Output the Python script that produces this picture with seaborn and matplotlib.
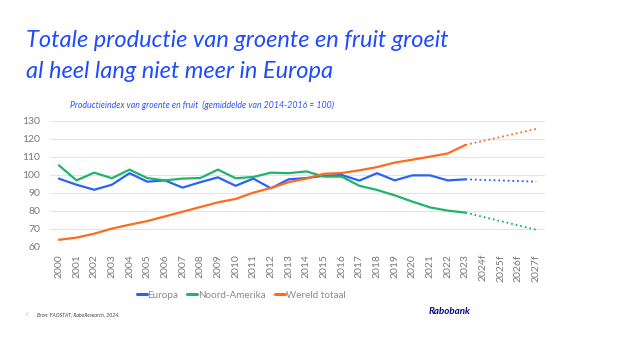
import matplotlib
matplotlib.use("Agg")
import matplotlib.pyplot as plt
import seaborn as sns
import pandas as pd
from matplotlib.lines import Line2D

# ---- data ----
labels = ["2000", "2001", "2002", "2003", "2004", "2005", "2006", "2007", "2008", "2009",
          "2010", "2011", "2012", "2013", "2014", "2015", "2016", "2017", "2018", "2019",
          "2020", "2021", "2022", "2023", "2024f", "2025f", "2026f", "2027f"]
hist_labels = labels[:24]
europa = [98.0, 94.6, 91.8, 94.6, 101.0, 96.3, 97.0, 93.0, 96.0, 98.7,
          94.0, 98.0, 92.6, 97.6, 98.3, 99.6, 100.0, 96.9, 101.0, 97.0,
          99.8, 99.8, 97.0, 97.6]
noord_amerika = [105.4, 97.0, 101.3, 98.2, 103.0, 98.3, 97.0, 98.0, 98.3, 103.0,
                 98.2, 98.9, 101.3, 101.0, 102.0, 99.1, 99.1, 94.0, 91.7, 88.7,
                 85.2, 82.0, 80.2, 79.1]
wereld = [64.0, 65.2, 67.4, 70.2, 72.4, 74.4, 77.0, 79.6, 82.2, 84.8,
          86.7, 90.2, 92.8, 96.0, 98.0, 100.7, 101.1, 102.6, 104.4, 106.9,
          108.5, 110.2, 112.0, 116.7]
fc_labels = ["2023", "2027f"]
fc_europa = [97.6, 96.3]
fc_noord_amerika = [79.1, 69.6]
fc_wereld = [116.7, 125.6]

series = ["Europa", "Noord-Amerika", "Wereld totaal"]
colors = {"Europa": "#2962f6", "Noord-Amerika": "#1fb36b", "Wereld totaal": "#ff6b1c"}
yticks = [60, 70, 80, 90, 100, 110, 120, 130]

title = "Totale productie van groente en fruit groeit\nal heel lang niet meer in Europa"
subtitle = "Productieindex van groente en fruit  (gemiddelde van 2014-2016 = 100)"
source = "Bron: FAOSTAT, RaboResearch, 2024."

hist = pd.DataFrame({
    "x": [labels.index(l) for l in hist_labels] * 3,
    "value": europa + noord_amerika + wereld,
    "serie": sum([[s] * len(hist_labels) for s in series], []),
})
fc = pd.DataFrame({
    "x": [labels.index(l) for l in fc_labels] * 3,
    "value": fc_europa + fc_noord_amerika + fc_wereld,
    "serie": sum([[s] * len(fc_labels) for s in series], []),
})

sns.set_style("white")
plt.rcParams["font.family"] = ["Lato", "DejaVu Sans"]

fig = plt.figure(figsize=(6.25, 3.48), dpi=100)
ax = fig.add_axes([50 / 625, 1 - 247 / 348, 495 / 625, 126 / 348])

sns.lineplot(data=hist, x="x", y="value", hue="serie", palette=colors,
             hue_order=series, linewidth=1.6, ax=ax, legend=False, clip_on=False)
sns.lineplot(data=fc, x="x", y="value", hue="serie", palette=colors,
             hue_order=series, linewidth=1.3, linestyle=(0, (1, 1.6)), ax=ax,
             legend=False, clip_on=False)

ax.set_xlim(-0.5, len(labels) - 0.5)
ax.set_ylim(60, 130)
ax.set_yticks(yticks)
ax.set_xticks(range(len(labels)))
ax.set_xticklabels(labels, rotation=90)
ax.grid(axis="y", color="#e4e4e4", linewidth=0.8)
ax.set_axisbelow(True)
for s in ax.spines.values():
    s.set_visible(False)
ax.tick_params(axis="both", length=0, colors="#7a7a7a", labelsize=7.5)
ax.tick_params(axis="y", pad=7)
ax.tick_params(axis="x", pad=5)
ax.set_xlabel("")
ax.set_ylabel("")

title_font = ["Lato", "DejaVu Sans"]
fig.text(26 / 625, 1 - 30 / 348, title, ha="left", va="top", color="#1f4cff",
         fontsize=17, style="italic", family=title_font, linespacing=1.6)
fig.text(70 / 625, 1 - 105 / 348, subtitle, ha="left", va="center", color="#2a55ff",
         fontsize=6.3, style="italic", family=title_font)

handles = [Line2D([0], [0], color=colors[s], linewidth=2.2) for s in series]
leg = fig.legend(handles, series, loc="center", bbox_to_anchor=(241 / 625, 1 - 295 / 348),
                 ncol=3, frameon=False, fontsize=7.1, handlelength=1.0, handletextpad=0.1,
                 columnspacing=0.9)
for t in leg.get_texts():
    t.set_color("#8a8a8a")

fig.text(37 / 625, 1 - 315 / 348, source, ha="left", va="center", color="#444444",
         fontsize=3.7, style="italic", family=title_font)
fig.text(25 / 625, 1 - 315 / 348, "4", ha="left", va="center", color="#cccccc", fontsize=4.5)
fig.text(450 / 625, 1 - 312 / 348, "Rabobank", ha="center", va="center", color="#000a8c",
         fontsize=7, style="italic", weight="bold", family=title_font)

fig.savefig("out.png", dpi=100)
